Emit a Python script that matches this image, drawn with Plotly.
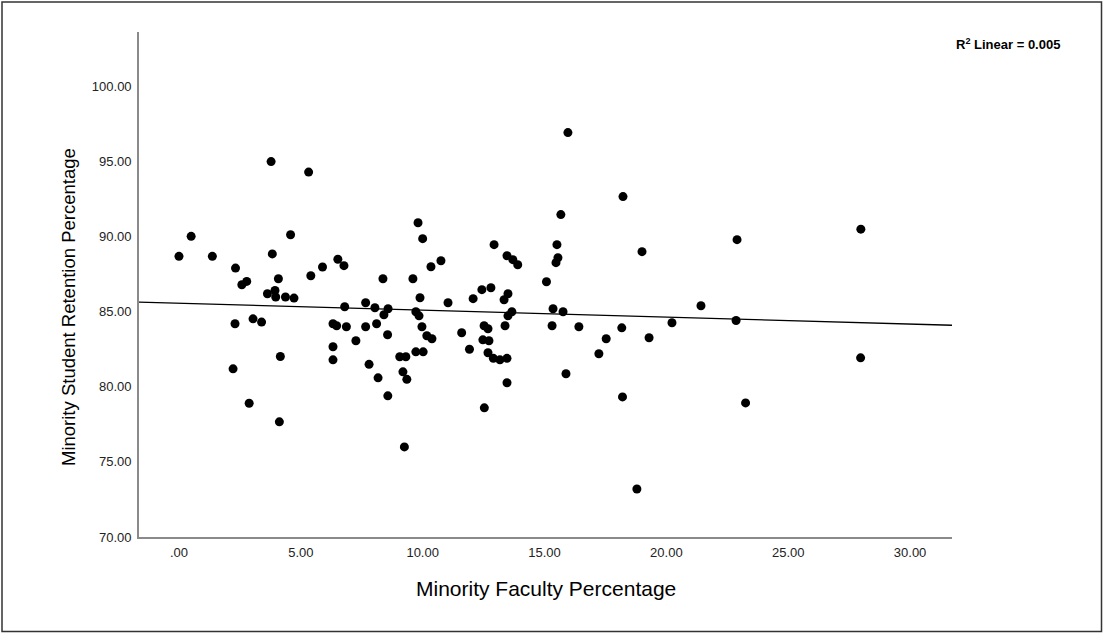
import numpy as np
import plotly.graph_objects as go

# Minority Faculty Percentage (x) and Minority Student Retention Percentage (y)
faculty_pct = [0.00, 0.50, 1.37, 2.32, 2.30, 2.22, 2.58, 2.78, 2.88, 3.04, 3.39, 3.78, 3.63, 3.83, 3.94,
               3.97, 4.08, 4.12, 4.16, 4.37, 4.58, 4.72, 5.32, 5.41, 5.89, 6.32, 6.47, 6.32, 6.32, 6.52,
               6.77, 6.80, 6.87, 7.26, 7.66, 7.66, 7.80, 8.04, 8.11, 8.17, 8.37, 8.41, 8.58, 8.56, 8.57,
               9.06, 9.19, 9.31, 9.35, 9.25, 9.60, 9.72, 9.85, 9.72, 9.81, 10.00, 9.89, 9.97, 10.02, 10.17,
               10.38, 10.34, 10.75, 11.04, 11.60, 11.92, 12.07, 12.43, 12.47, 12.53, 12.52, 12.68, 12.72, 12.68, 12.80,
               12.93, 12.90, 13.17, 13.46, 13.38, 13.34, 13.46, 13.46, 13.50, 13.50, 13.66, 13.70, 13.90,
               15.08, 15.31, 15.35, 15.47, 15.51, 15.55, 15.67, 15.76, 15.88, 15.96, 16.41, 17.23, 17.53, 18.17,
               18.22, 18.20, 18.79, 19.00, 19.29, 20.23, 21.42, 22.86, 22.90, 23.25, 27.97, 27.98]
retention_pct = [88.69, 90.02, 88.69, 87.91, 84.20, 81.20, 86.80, 87.02, 78.91, 84.53, 84.31, 95.00, 86.20, 88.85, 86.42,
                 85.98, 87.20, 77.67, 82.02, 85.98, 90.13, 85.91, 94.30, 87.40, 87.98, 84.20, 84.07, 82.67, 81.80, 88.50,
                 88.07, 85.33, 84.00, 83.07, 85.60, 84.00, 81.50, 85.27, 84.20, 80.60, 87.20, 84.80, 85.20, 83.47, 79.40,
                 82.00, 81.00, 82.00, 80.50, 76.00, 87.20, 85.00, 84.73, 82.33, 90.93, 89.87, 85.93, 84.00, 82.33, 83.40,
                 83.20, 88.00, 88.40, 85.60, 83.60, 82.50, 85.87, 86.47, 83.13, 78.60, 84.07, 83.87, 83.07, 82.27, 86.60,
                 89.47, 81.90, 81.80, 81.90, 84.07, 85.80, 80.27, 88.73, 86.20, 84.73, 85.00, 88.47, 88.13,
                 87.00, 84.07, 85.20, 88.27, 89.47, 88.60, 91.47, 85.00, 80.87, 96.93, 84.00, 82.20, 83.20, 83.93,
                 92.67, 79.33, 73.20, 89.00, 83.27, 84.27, 85.40, 84.42, 89.80, 78.93, 81.93, 90.50]

x_ticks = [0, 5, 10, 15, 20, 25, 30]
x_tick_labels = [".00", "5.00", "10.00", "15.00", "20.00", "25.00", "30.00"]
y_ticks = [70, 75, 80, 85, 90, 95, 100]
y_tick_labels = ["70.00", "75.00", "80.00", "85.00", "90.00", "95.00", "100.00"]
x_range = [-1.64, 31.72]
y_range = [70, 103.63]
r2_label = "R<sup>2</sup> Linear = 0.005"

slope, intercept = np.polyfit(faculty_pct, retention_pct, 1)
fit_x = np.array(x_range)
fit_y = slope * fit_x + intercept

FONT = "Liberation Sans, Arial, sans-serif"

fig = go.Figure()
fig.add_trace(go.Scatter(x=faculty_pct, y=retention_pct, mode="markers",
                         marker=dict(size=9, color="black", line=dict(width=0)),
                         showlegend=False, hoverinfo="x+y"))
fig.add_trace(go.Scatter(x=fit_x, y=fit_y, mode="lines",
                         line=dict(color="black", width=1.3),
                         showlegend=False, hoverinfo="skip"))

L, R, T, B = 139, 152, 32, 97
W, H = 1104, 634
pw, ph = W - L - R, H - T - B

def px(xp):
    return (xp - L) / pw

def py(yp):
    return (H - B - yp) / ph

fig.update_layout(
    width=W, height=H,
    margin=dict(l=L, r=R, t=T, b=B, pad=0),
    paper_bgcolor="white", plot_bgcolor="white",
    xaxis=dict(range=x_range, tickvals=x_ticks, ticktext=x_tick_labels,
               showline=True, linecolor="#8a8a8a", linewidth=1.6,
               showgrid=False, zeroline=False, ticks="",
               ticklabelstandoff=3,
               tickfont=dict(family=FONT, size=13, color="#222")),
    yaxis=dict(range=y_range, tickvals=y_ticks, ticktext=y_tick_labels,
               showline=True, linecolor="#8a8a8a", linewidth=1.6,
               showgrid=False, zeroline=False, ticks="",
               ticklabelstandoff=3,
               tickfont=dict(family=FONT, size=13, color="#222")),
    annotations=[
        dict(text="Minority Student Retention Percentage", xref="paper", yref="paper",
             x=px(68), y=py(307), textangle=-90, showarrow=False,
             xanchor="center", yanchor="middle",
             font=dict(family=FONT, size=18.5, color="black")),
        dict(text="Minority Faculty Percentage", xref="paper", yref="paper",
             x=0.5, y=py(588), showarrow=False, xanchor="center", yanchor="middle",
             font=dict(family=FONT, size=21, color="black")),
        dict(text="<b>" + r2_label + "</b>", xref="paper", yref="paper",
             x=px(1062), y=py(44), showarrow=False, xanchor="right", yanchor="middle",
             font=dict(family=FONT, size=13, color="black")),
    ],
    shapes=[dict(type="rect", xref="paper", yref="paper",
                 x0=px(2), x1=px(1101.5), y0=py(631.5), y1=py(2),
                 line=dict(color="#333", width=1.5), fillcolor="rgba(0,0,0,0)")],
)

fig.write_html("out.html", config={"displayModeBar": False},
               post_script="document.body.style.margin='0';document.body.style.padding='0';")
